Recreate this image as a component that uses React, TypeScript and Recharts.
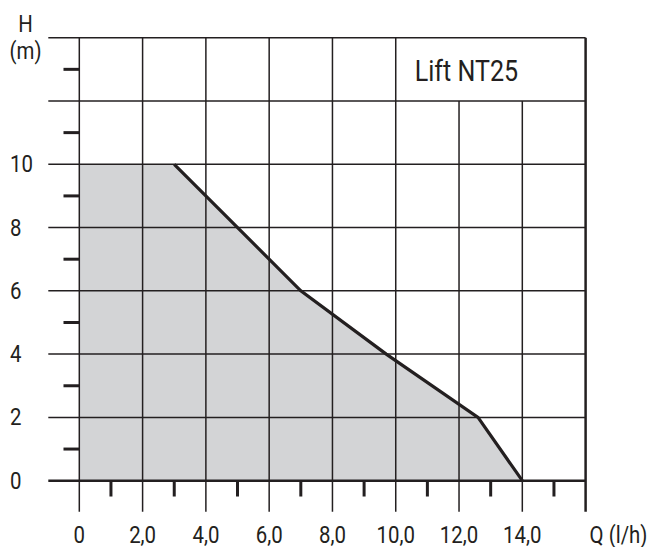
import React from "react";
import {
  ComposedChart,
  Area,
  Line,
  XAxis,
  YAxis,
  ReferenceLine,
  ReferenceArea,
} from "recharts";

// ---- data ----
const Q_TICKS = [0, 2, 4, 6, 8, 10, 12, 14, 16];
const Q_LABELS = ["0", "2,0", "4,0", "6,0", "8,0", "10,0", "12,0", "14,0", "Q (l/h)"];
const Q_MINOR = [1, 3, 5, 7, 9, 11, 13, 15];
const H_TICKS = [0, 2, 4, 6, 8, 10, 12, 14];
const H_LABELS = ["0", "2", "4", "6", "8", "10", "", ""];
const H_MINOR = [1, 3, 5, 7, 9, 11, 13];
const FLOW = [0, 3, 7, 9.7, 12.6, 14];
const HEAD_AREA = [10, 10, 6, 4, 2, 0];
const HEAD_LINE = [null, 10, 6, 4, 2, 0];
const TITLE = "Lift NT25";
const Y_TITLE = ["H", "(m)"];

const data = FLOW.map((q, i) => ({ q, area: HEAD_AREA[i], line: HEAD_LINE[i] }));

const W = 657;
const H = 547;
// The plotting domain includes the strip where grid lines run past the axes
// (about 31px = 0.98 units) so that every line lies inside the plot area.
const EXT = -0.98;
const MINOR_EXT = -0.5;
const M = { top: 29.7, right: 79.4, bottom: 42.3, left: 39.3 };
const LABEL_BASELINE = 535;
const INK = "#231f20";
const FONT = "Roboto, 'Open Sans', sans-serif";
const FS = 24;
const SX = 0.85;

const Narrow = ({ x, y, anchor, size, children }: any) => (
  <text
    transform={`translate(${x},${y}) scale(${SX},1)`}
    x={0}
    y={0}
    textAnchor={anchor}
    fontSize={size}
    fontFamily={FONT}
    fill={INK}
  >
    {children}
  </text>
);

const XTick = (props: any) => {
  const v = props.payload.value;
  const i = Q_TICKS.indexOf(v);
  const label = Q_LABELS[i] ?? "";
  const isLast = v === 16;
  return (
    <Narrow x={isLast ? props.x + 4 : props.x} y={LABEL_BASELINE} anchor={isLast ? "start" : "middle"} size={FS}>
      {label}
    </Narrow>
  );
};

const YTick = (props: any) => {
  const v = props.payload.value;
  if (v === 14) {
    return (
      <g>
        <Narrow x={17.5} y={24} anchor="middle" size={FS}>
          {Y_TITLE[0]}
        </Narrow>
        <Narrow x={17.5} y={51} anchor="middle" size={FS}>
          {Y_TITLE[1]}
        </Narrow>
      </g>
    );
  }
  const i = H_TICKS.indexOf(v);
  return (
    <Narrow x={2} y={props.y + 8} anchor="start" size={FS}>
      {H_LABELS[i] ?? ""}
    </Narrow>
  );
};

export default function App() {
  return (
    <ComposedChart width={W} height={H} data={data} margin={M}>
      <XAxis
        type="number"
        dataKey="q"
        domain={[EXT, 16]}
        ticks={Q_TICKS}
        height={1}
        axisLine={false}
        tickLine={false}
        tick={<XTick />}
      />
      <YAxis
        type="number"
        domain={[EXT, 14]}
        ticks={H_TICKS}
        width={1}
        axisLine={false}
        tickLine={false}
        tick={<YTick />}
      />
      <Area
        type="linear"
        dataKey="area"
        baseValue={0}
        stroke="none"
        fill="#d3d4d6"
        fillOpacity={1}
        isAnimationActive={false}
        dot={false}
        activeDot={false}
      />
      {H_TICKS.map((v) => (
        <ReferenceLine
          key={"h" + v}
          segment={[
            { x: EXT, y: v },
            { x: 16, y: v },
          ]}
          ifOverflow="visible"
          stroke={INK}
          strokeWidth={v === 0 ? 2.5 : 1.5}
        />
      ))}
      {H_MINOR.map((v) => (
        <ReferenceLine
          key={"hm" + v}
          segment={[
            { x: MINOR_EXT, y: v },
            { x: 0, y: v },
          ]}
          ifOverflow="visible"
          stroke={INK}
          strokeWidth={3}
        />
      ))}
      {Q_TICKS.map((v) => (
        <ReferenceLine
          key={"v" + v}
          segment={[
            { x: v, y: EXT },
            { x: v, y: v === 12 || v === 14 ? 12 : 14 },
          ]}
          ifOverflow="visible"
          stroke={INK}
          strokeWidth={v === 16 ? 2.5 : 1.5}
        />
      ))}
      {Q_MINOR.map((v) => (
        <ReferenceLine
          key={"vm" + v}
          segment={[
            { x: v, y: MINOR_EXT },
            { x: v, y: 0 },
          ]}
          ifOverflow="visible"
          stroke={INK}
          strokeWidth={3}
        />
      ))}
      <ReferenceArea
        x1={10}
        x2={16}
        y1={12}
        y2={14}
        fill="none"
        stroke="none"
        ifOverflow="visible"
        label={(p: any) => (
          <Narrow x={p.viewBox.x + 19} y={p.viewBox.y + p.viewBox.height / 2 + 11.5} anchor="start" size={29.5}>
            {TITLE}
          </Narrow>
        )}
      />
      <Line
        type="linear"
        dataKey="line"
        stroke={INK}
        strokeWidth={3.2}
        dot={false}
        activeDot={false}
        connectNulls={false}
        isAnimationActive={false}
      />
    </ComposedChart>
  );
}
